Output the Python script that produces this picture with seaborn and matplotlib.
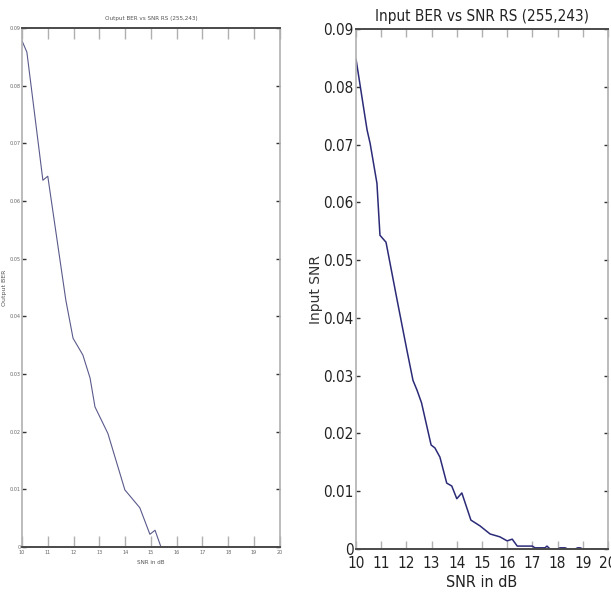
import matplotlib
matplotlib.use("Agg")
import matplotlib.pyplot as plt
from matplotlib import font_manager
import seaborn as sns
import pandas as pd

# Output BER after RS(255,243) decoding
out_snr = [10.0, 10.19, 10.81, 11.0, 11.7, 11.98, 12.36, 12.64, 12.83, 13.33,
           13.99, 14.57, 14.96, 15.16, 15.39, 16.0, 17.0, 18.0, 19.0, 20.0]
out_ber = [0.0878, 0.0858, 0.0636, 0.0643, 0.0428, 0.0362, 0.0333, 0.0293, 0.0243, 0.0197,
           0.0099, 0.0068, 0.0022, 0.0029, 0.0, 0.0, 0.0, 0.0, 0.0, 0.0]

# Input BER before decoding
in_snr = [10.0, 10.36, 10.44, 10.56, 10.83, 10.95, 11.19, 11.63, 12.02, 12.26,
          12.42, 12.6, 12.98, 13.13, 13.33, 13.6, 13.8, 14.0, 14.2, 14.56,
          14.92, 15.32, 15.71, 16.0, 16.2, 16.4, 17.0, 17.1, 17.5, 17.58,
          17.7, 18.0, 18.1, 18.3, 18.4, 18.7, 18.8, 18.9, 19.0, 20.0]
in_ber = [0.0848, 0.0747, 0.0725, 0.0702, 0.0633, 0.0543, 0.0531, 0.0431, 0.0344, 0.0292,
          0.0275, 0.0253, 0.0180, 0.0175, 0.0159, 0.0114, 0.0109, 0.0087, 0.0097, 0.0050,
          0.0040, 0.0026, 0.0021, 0.0014, 0.0017, 0.0005, 0.0005, 0.0002, 0.0002, 0.0005,
          0.0, 0.0, 0.0002, 0.0002, 0.0, 0.0, 0.0002, 0.0002, 0.0, 0.0]

x_ticks = list(range(10, 21))
y_ticks = [0, 0.01, 0.02, 0.03, 0.04, 0.05, 0.06, 0.07, 0.08, 0.09]
y_labels = ["0", "0.01", "0.02", "0.03", "0.04", "0.05", "0.06", "0.07", "0.08", "0.09"]

sns.set_style("white")


def _is_regular(f):
    w = f.weight
    return (w in ("normal", "regular", "book") or w == 400) and f.style == "normal"


# a narrow, regular-weight face for the condensed labels
narrow = None
candidates = [f for f in font_manager.fontManager.ttflist
              if ("Narrow" in f.name or "Condensed" in f.name
                  or "condensed" in str(f.stretch)) and _is_regular(f)]
if candidates:
    candidates.sort(key=lambda f: (0 if "DejaVu" in f.name else 1, f.name))
    narrow = candidates[0]
if narrow is not None:
    tick_font = font_manager.FontProperties(fname=narrow.fname)
else:
    tick_font = font_manager.FontProperties(family="DejaVu Sans")
plt.rcParams["font.family"] = ["DejaVu Sans"]

fig = plt.figure(figsize=(6.11, 6.05), dpi=100)
ax1 = fig.add_axes([0.036, 0.0959, 0.422, 0.8578])
ax2 = fig.add_axes([0.5827, 0.0926, 0.4123, 0.8594])

df_out = pd.DataFrame({"snr": out_snr, "ber": out_ber})
df_in = pd.DataFrame({"snr": in_snr, "ber": in_ber})

sns.lineplot(data=df_out, x="snr", y="ber", ax=ax1, color="#5a5a8c", linewidth=0.8)
sns.lineplot(data=df_in, x="snr", y="ber", ax=ax2, color="#2b2b78", linewidth=1.1)


def style_axes(ax, small):
    size = 4 if small else 11
    colour = "#666666" if small else "#222222"
    ax.set_xlim(10, 20)
    ax.set_ylim(0, 0.09)
    ax.set_xticks(x_ticks)
    ax.set_xticklabels([str(t) for t in x_ticks])
    ax.set_yticks(y_ticks)
    ax.set_yticklabels(y_labels)
    for lbl in ax.get_xticklabels() + ax.get_yticklabels():
        lbl.set_fontproperties(tick_font)
        lbl.set_fontsize(size)
        lbl.set_color(colour)
    for side in ("top", "bottom"):
        ax.spines[side].set_visible(True)
        ax.spines[side].set_color("#4a4a4a")
        ax.spines[side].set_linewidth(1.4)
    for side in ("left", "right"):
        ax.spines[side].set_visible(True)
        ax.spines[side].set_color("#b0b0b0")
        ax.spines[side].set_linewidth(1.2)
    ax.tick_params(axis="x", direction="in", length=8 if small else 6,
                   color="#b0b0b0", top=True, bottom=True, width=1,
                   pad=2 if small else 5)
    ax.tick_params(axis="y", direction="in", length=3, color="#333333",
                   left=True, right=True, width=1, pad=1 if small else 2)


style_axes(ax1, True)
style_axes(ax2, False)

t1 = ax1.set_title("Output BER vs SNR RS (255,243)", pad=6)
t1.set_fontproperties(tick_font); t1.set_fontsize(4.5); t1.set_color("#555555")
x1 = ax1.set_xlabel("SNR in dB", labelpad=4)
x1.set_fontproperties(tick_font); x1.set_fontsize(4.5); x1.set_color("#555555")
ax1.set_ylabel("Output BER", fontsize=4.5, color="#555555", labelpad=2)

t2 = ax2.set_title("Input BER vs SNR RS (255,243)", pad=6)
t2.set_fontproperties(tick_font); t2.set_fontsize(11); t2.set_color("#222222")
x2 = ax2.set_xlabel("SNR in dB", labelpad=3)
x2.set_fontproperties(tick_font); x2.set_fontsize(11.5); x2.set_color("#222222")
ax2.set_ylabel("Input SNR", fontsize=10, color="#333333", labelpad=0)

fig.savefig("out.png", dpi=100, facecolor="white")
